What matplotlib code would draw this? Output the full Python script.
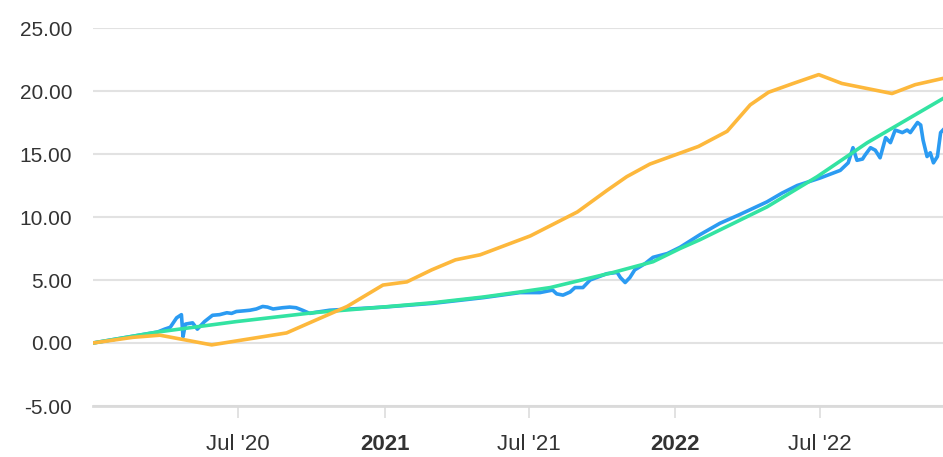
import matplotlib
matplotlib.use('Agg')
import matplotlib.pyplot as plt
import pandas as pd

# benchmark / total return series (cumulative %)
bench_dates = ["2020-01-01", "2020-02-20", "2020-03-25", "2020-05-29", "2020-08-31",
               "2020-10-06", "2020-11-15", "2020-12-30", "2021-01-29", "2021-03-01",
               "2021-03-31", "2021-05-01", "2021-07-03", "2021-08-31", "2021-10-07",
               "2021-11-01", "2021-11-30", "2022-01-30", "2022-03-07", "2022-04-05",
               "2022-04-28", "2022-05-29", "2022-06-30", "2022-07-29", "2022-09-30",
               "2022-10-29", "2022-12-03"]
bench_vals = [0.0, 0.45, 0.62, -0.15, 0.8,
              1.8, 2.9, 4.6, 4.85, 5.8,
              6.6, 7.0, 8.5, 10.4, 12.1,
              13.2, 14.2, 15.6, 16.8, 18.9,
              19.9, 20.6, 21.3, 20.6, 19.8,
              20.5, 21.0]

trend_dates = ["2020-01-01", "2020-03-22", "2020-06-29", "2020-10-03", "2020-12-31",
               "2021-03-03", "2021-05-05", "2021-06-20", "2021-07-28", "2021-10-15",
               "2021-12-04", "2022-01-07", "2022-02-01", "2022-04-26", "2022-06-28",
               "2022-08-30", "2022-12-03"]
trend_vals = [0.0, 0.87, 1.7, 2.4, 2.86,
              3.2, 3.65, 4.05, 4.4, 5.6,
              6.45, 7.5, 8.2, 10.8, 13.2,
              15.9, 19.4]

fund_dates = ["2020-01-01", "2020-03-22", "2020-03-31", "2020-04-07", "2020-04-15",
              "2020-04-21", "2020-04-23", "2020-04-26", "2020-05-05", "2020-05-11",
              "2020-05-20", "2020-05-30", "2020-06-08", "2020-06-17", "2020-06-23",
              "2020-06-29", "2020-07-08", "2020-07-16", "2020-07-24",
              "2020-08-01", "2020-08-07", "2020-08-14", "2020-08-20", "2020-08-26",
              "2020-09-04", "2020-09-12", "2020-09-20", "2020-09-29", "2020-10-08",
              "2020-10-24", "2020-12-31", "2021-03-03", "2021-05-05", "2021-06-20",
              "2021-07-15", "2021-07-31", "2021-08-05", "2021-08-13", "2021-08-22",
              "2021-08-28", "2021-09-07", "2021-09-16", "2021-10-07", "2021-10-20",
              "2021-10-24", "2021-10-30", "2021-11-05", "2021-11-11", "2021-11-24",
              "2021-12-04", "2021-12-22", "2022-01-07", "2022-02-01", "2022-02-26",
              "2022-03-23", "2022-04-26", "2022-05-15", "2022-06-03", "2022-07-02",
              "2022-07-27", "2022-08-06", "2022-08-12", "2022-08-17", "2022-08-24",
              "2022-08-27", "2022-09-03", "2022-09-09", "2022-09-15", "2022-09-22",
              "2022-09-28", "2022-10-04", "2022-10-13", "2022-10-19", "2022-10-23",
              "2022-11-01", "2022-11-05", "2022-11-08", "2022-11-13", "2022-11-17",
              "2022-11-21", "2022-11-26", "2022-11-30", "2022-12-03"]
fund_vals = [0.0, 0.87, 1.1, 1.25, 2.0,
             2.25, 0.5, 1.5, 1.6, 1.1,
             1.7, 2.2, 2.25, 2.4, 2.35,
             2.5, 2.55, 2.6, 2.7,
             2.9, 2.85, 2.7, 2.75, 2.8,
             2.85, 2.8, 2.6, 2.35, 2.45,
             2.6, 2.85, 3.15, 3.6, 4.0,
             4.0, 4.2, 3.9, 3.8, 4.05,
             4.4, 4.4, 5.0, 5.5, 5.6,
             5.2, 4.8, 5.2, 5.8, 6.3,
             6.8, 7.1, 7.6, 8.6, 9.5,
             10.2, 11.2, 11.9, 12.5, 13.1,
             13.7, 14.3, 15.5, 14.5, 14.6,
             14.9, 15.5, 15.3, 14.7, 16.3,
             15.9, 16.9, 16.7, 16.9, 16.7,
             17.5, 17.3, 16.1, 14.8, 15.1,
             14.3, 14.8, 16.7, 16.9]

y_ticks = [-5, 0, 5, 10, 15, 20, 25]
x_ticks = ["2020-07-01", "2021-01-01", "2021-07-01", "2022-01-01", "2022-07-01"]
x_labels = ["Jul '20", "2021", "Jul '21", "2022", "Jul '22"]

fig = plt.figure(figsize=(9.43, 4.57), dpi=100)
ax = fig.add_axes([93 / 943, 51 / 457, 850 / 943, 378 / 457])

ax.plot(pd.to_datetime(fund_dates), fund_vals, color='#2b9bf2', lw=2.6, zorder=3)
ax.plot(pd.to_datetime(trend_dates), trend_vals, color='#33e3a2', lw=2.6, zorder=4)
ax.plot(pd.to_datetime(bench_dates), bench_vals, color='#fdb83c', lw=2.6, zorder=5)

ax.set_xlim(pd.Timestamp("2020-01-01"), pd.Timestamp("2022-12-03"))
ax.set_ylim(-5, 25)

ax.set_yticks(y_ticks)
ax.set_yticklabels(["%.2f" % v for v in y_ticks], fontsize=15, color='#333333',
                   family=['Liberation Sans', 'DejaVu Sans'])
ax.tick_params(axis='y', length=0, pad=15)
ax.grid(axis='y', color='#e2e2e2', lw=1.5, zorder=0)

ax.set_xticks(pd.to_datetime(x_ticks))
ax.set_xticklabels(x_labels, fontsize=16, color='#333333',
                   family=['Liberation Sans', 'DejaVu Sans'])
for lbl in ax.get_xticklabels():
    if not lbl.get_text().startswith('Jul'):
        lbl.set_fontweight('bold')
ax.tick_params(axis='x', length=8.5, width=1.2, color='#dddddd', pad=12)

for side in ['top', 'right', 'left']:
    ax.spines[side].set_visible(False)
ax.spines['bottom'].set_color('#dadada')
ax.spines['bottom'].set_linewidth(2)

plt.savefig("out.png", dpi=100)
